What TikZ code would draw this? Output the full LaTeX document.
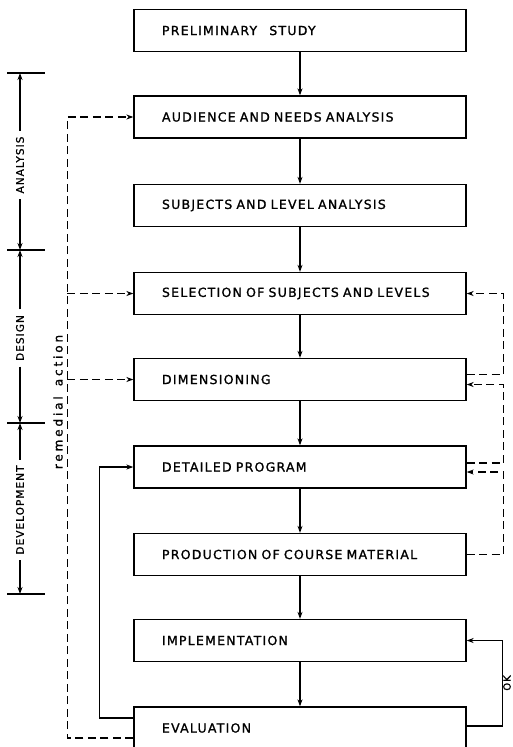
\documentclass[tikz,border=0pt]{standalone}
\usepackage{fontspec}
\newfontfamily\boxfont{DejaVu Sans}[LetterSpace=10,WordSpace=1.6,FakeBold=1.2]
\newfontfamily\sidefont{DejaVu Sans}[LetterSpace=10,FakeBold=1.2]
\newfontfamily\remfont{DejaVu Sans}[LetterSpace=24,WordSpace=1.5,FakeBold=1.2]
\usetikzlibrary{arrows.meta,calc}
\begin{document}
\begin{tikzpicture}[x=1pt,y=-1pt,line width=1.3pt,
  box/.style={draw,rectangle,minimum width=332pt,minimum height=42pt,text width=276pt,
    inner xsep=28pt,inner ysep=0pt,align=left,font=\boxfont\fontsize{12.5}{15}\selectfont},
  tip/.style={-{Stealth[length=7pt,width=5pt]}},
  rdash/.style={dash pattern=on 8pt off 4.5pt},
  side/.style={rotate=90,inner sep=5pt,font=\sidefont\fontsize{10.5}{12}\selectfont},
  tick/.style={line width=1.3pt}]
\useasboundingbox (0,0) rectangle (513,747);
\clip (0,0) rectangle (513,747);

% boxes
\node[box] (pre) at (300,30.5) {PRELIMINARY\hspace{8pt} STUDY};
\node[box] (aud) at (300,117) {AUDIENCE AND NEEDS ANALYSIS};
\node[box] (sub) at (300,205.5) {SUBJECTS AND LEVEL ANALYSIS};
\node[box] (sel) at (300,293.5) {SELECTION OF SUBJECTS AND LEVELS};
\node[box] (dim) at (300,379.5) {DIMENSIONING};
\node[box] (det) at (300,467) {DETAILED PROGRAM};
\node[box] (pro) at (300,554.5) {PRODUCTION OF COURSE MATERIAL};
\node[box] (imp) at (300,640.5) {IMPLEMENTATION};
\node[box] (eva) at (300,728) {EVALUATION};

% main flow
\foreach \a/\b in {pre/aud,aud/sub,sub/sel,sel/dim,dim/det,det/pro,pro/imp,imp/eva}
  \draw[tip] (\a) -- (\b);

% left loops
\draw[tip] ($(eva.west)+(0,-10)$) -- ++(-34,0) |- (det.west);
\draw[rdash,tip] ($(eva.west)+(0,10)$) -- ++(-66,0) |- (aud.west);
\draw[rdash,tip] ($(sel.west)+(-66,0)$) -- (sel.west);
\draw[rdash,tip] ($(dim.west)+(-66,0)$) -- (dim.west);
\node[rotate=90,font=\remfont\fontsize{12}{14}\selectfont] (rem) at (58,402) {remedial action};

% right loops
\draw[rdash,tip] ($(dim.east)+(0,-5)$) -- ++(37,0) |- (sel.east);
\draw[rdash,tip] ($(det.east)+(0,-4)$) -- ++(37,0) |- ($(dim.east)+(0,5)$);
\draw[rdash,tip] (pro.east) -- ++(37,0) |- ($(det.east)+(0,5)$);
\draw[tip] ($(eva.east)+(0,-2)$) -- ++(36,0) |- (imp.east);
\node[rotate=90,inner sep=0pt,font=\sidefont\fontsize{10}{12}\selectfont] (ok) at (507,683) {OK};

% phase scale
\coordinate (s1) at (20,73);
\coordinate (s2) at (20,250);
\coordinate (s3) at (20,423);
\coordinate (s4) at (20,594);
\foreach \s in {s1,s2,s3,s4}
  \draw[tick] ($(\s)+(-13,0)$) -- ($(\s)+(25,0)$);
\node[side] (an) at (20,165) {ANALYSIS};
\node[side] (de) at (20,338) {DESIGN};
\node[side] (dv) at (20,510) {DEVELOPMENT};
\draw[tip] (an.east) -- (s1);
\draw[tip] (an.west) -- (s2);
\draw[tip] (de.east) -- (s2);
\draw[tip] (de.west) -- (s3);
\draw[tip] (dv.east) -- (s3);
\draw[tip] (dv.west) -- (s4);
\end{tikzpicture}
\end{document}
